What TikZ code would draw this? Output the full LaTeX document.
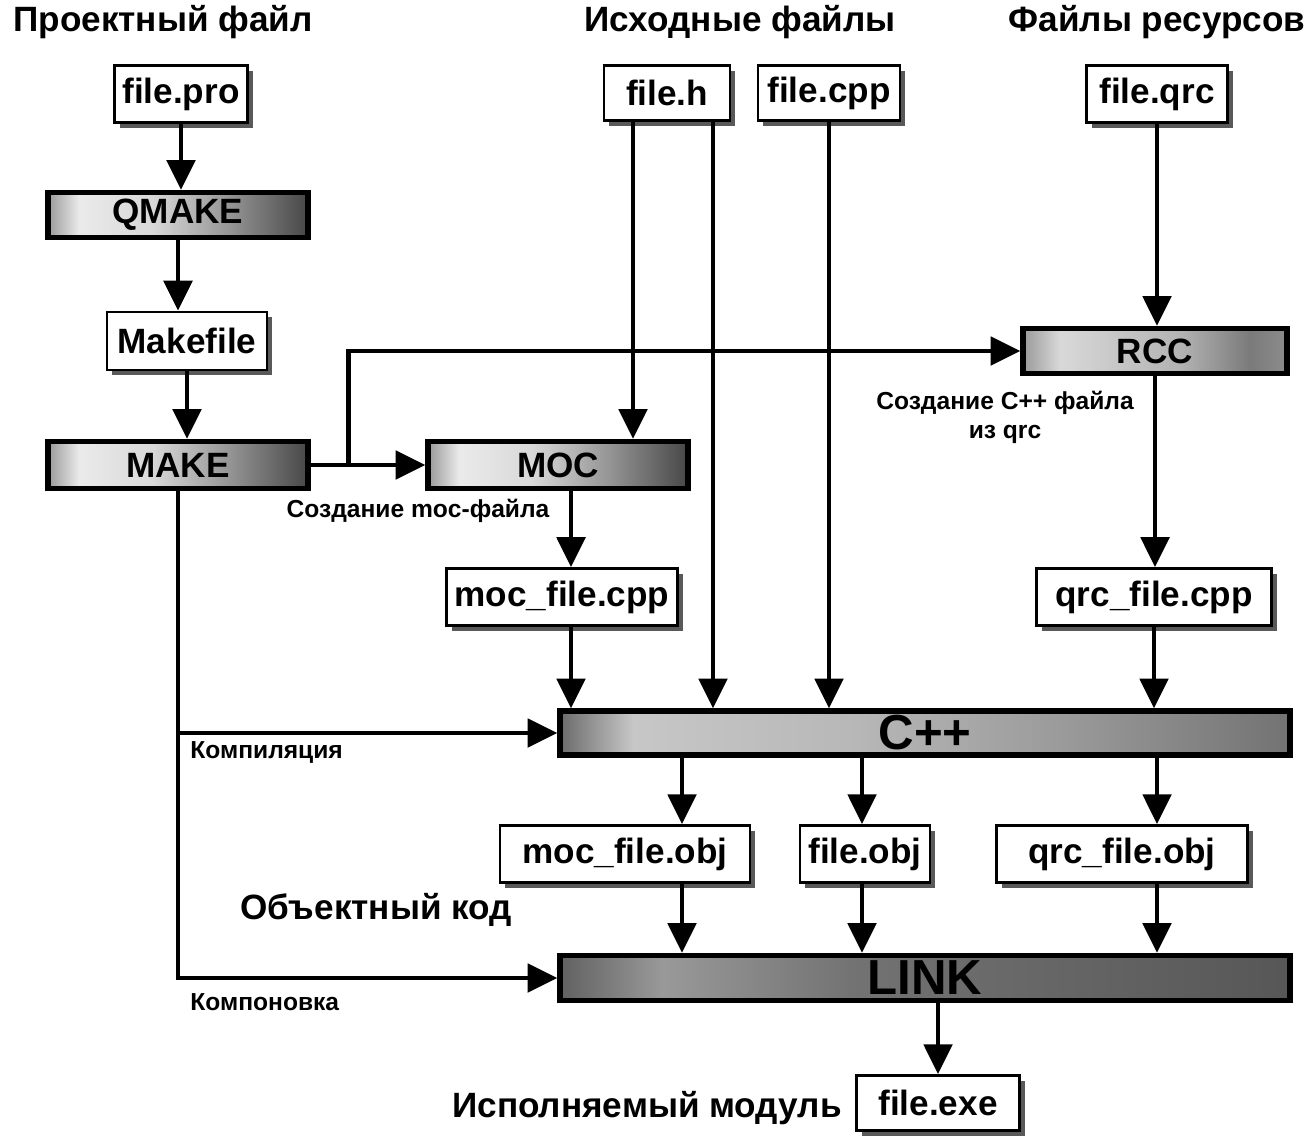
\documentclass[tikz,border=0pt]{standalone}
\usepackage{fontspec}
\setmainfont{Liberation Sans}
\usetikzlibrary{arrows.meta,calc,shadows}
% horizontal grey shadings of the tool bars (path covers 25bp..75bp)
\pgfdeclarehorizontalshading{procA}{100bp}{color(0bp)=(black!40); color(25bp)=(black!40);
  color(31bp)=(black!8); color(45bp)=(black!15); color(60bp)=(black!42); color(75bp)=(black!72); color(100bp)=(black!72)}
\pgfdeclarehorizontalshading{procB}{100bp}{color(0bp)=(black!40); color(25bp)=(black!40);
  color(32bp)=(black!15); color(55bp)=(black!30); color(68bp)=(black!52); color(75bp)=(black!45); color(100bp)=(black!45)}
\pgfdeclarehorizontalshading{procC}{100bp}{color(0bp)=(black!58); color(25bp)=(black!58);
  color(30bp)=(black!22); color(45bp)=(black!28); color(60bp)=(black!40); color(75bp)=(black!55); color(100bp)=(black!55)}
\pgfdeclarehorizontalshading{procD}{100bp}{color(0bp)=(black!62); color(25bp)=(black!62);
  color(32bp)=(black!40); color(45bp)=(black!55); color(75bp)=(black!66); color(100bp)=(black!66)}
\begin{document}
\begin{tikzpicture}[x=0.02cm, y=-0.02cm,
  filebox/.style={draw, line width=1.6pt, fill=white, inner sep=0pt,
    font=\bfseries\fontsize{20}{24}\selectfont,
    drop shadow={shadow xshift=3pt, shadow yshift=-3pt, fill=black!65, opacity=1}},
  tool/.style={draw, line width=3pt, inner sep=0pt, minimum width=5.2cm, minimum height=0.9cm,
    font=\bfseries\fontsize{20}{24}\selectfont},
  flow/.style={line width=2.8pt, -{Triangle[length=17pt,width=16pt]}},
  note/.style={inner sep=0pt, font=\bfseries\fontsize{14}{16.5}\selectfont},
  head/.style={inner sep=0pt, font=\bfseries\fontsize{20}{24}\selectfont}]
\useasboundingbox (0,0) rectangle (1314,1137);

% headings
\node[head] (thpro) at (163,22) {Проектный файл};
\node[head] (thsrc) at (740,22) {Исходные файлы};
\node[head] (thres) at (1157,22) {Файлы ресурсов};

% files and tools
\node[filebox, minimum width=2.66cm, minimum height=1.14cm] (pro) at (181,94) {file.pro};
\node[tool, shading=procA] (qmake) at (178,215) {QMAKE};
\node[filebox, minimum width=3.2cm, minimum height=1.16cm] (mkfile) at (187,341) {Makefile};
\node[tool, shading=procA, minimum height=0.94cm] (make) at (178,465) {MAKE};
\node[tool, shading=procA, minimum height=0.94cm] (moc) at (558,465) {MOC};
\node[filebox, minimum width=2.52cm, minimum height=1.1cm] (fileh) at (667,93) {file.h};
\node[filebox, minimum width=2.84cm, minimum height=1.1cm] (filecpp) at (829,93) {file.cpp};
\node[filebox, minimum width=2.82cm, minimum height=1.14cm] (fileqrc) at (1157,94) {file.qrc};
\node[tool, shading=procB, minimum width=5.28cm] (rcc) at (1155,351) {RCC};
\node[filebox, minimum width=4.62cm, minimum height=1.14cm] (moccpp) at (562,597) {moc\_file.cpp};
\node[filebox, minimum width=4.7cm, minimum height=1.14cm] (qrccpp) at (1154,597) {qrc\_file.cpp};
\node[tool, shading=procC, minimum width=14.6cm, minimum height=0.88cm,
  font=\bfseries\fontsize{28}{30}\selectfont] (cpp) at (925,733) {C++};
\node[filebox, minimum width=5cm, minimum height=1.14cm] (mocobj) at (625,854) {moc\_file.obj};
\node[filebox, minimum width=2.6cm, minimum height=1.14cm] (fileobj) at (865,854) {file.obj};
\node[filebox, minimum width=5.02cm, minimum height=1.14cm] (qrcobj) at (1122,854) {qrc\_file.obj};
\node[tool, shading=procD, minimum width=14.6cm,
  font=\bfseries\fontsize{28}{30}\selectfont] (link) at (925,978) {LINK};
\node[filebox, minimum width=3.26cm, minimum height=1.1cm] (exe) at (938,1103) {file.exe};

% captions
\node[note, align=center] (trcc) at (1005,417) {Создание C++ файла\\из qrc};
\node[note] (tmoc) at (418,511) {Создание moc-файла};
\node[note, anchor=west] (tcomp) at (190,752) {Компиляция};
\node[head, anchor=west] (tobj) at (240,910) {Объектный код};
\node[note, anchor=west] (tlink) at (190,1002) {Компоновка};
\node[head, anchor=east] (texe) at (842,1108) {Исполняемый модуль};

% project branch
\draw[flow] (pro.south) -- (pro.south |- qmake.north);
\draw[flow] (qmake.south) -- (qmake.south |- mkfile.north);
\draw[flow] (mkfile.south) -- (mkfile.south |- make.north);
\draw[flow] (make) -- (moc);
\coordinate (split) at ($(make.east)!0.33!(moc.west)$);
\draw[flow] (split) |- (rcc.west);
\draw[flow] (make.south) |- (link.west);
\draw[flow] (make.south |- cpp.west) -- (cpp.west);

% sources
\coordinate (hl) at ($(fileh.south)+(-34,0)$);
\coordinate (hr) at ($(fileh.south)+(46,0)$);
\draw[flow] (hl) -- (hl |- moc.north);
\draw[flow] (hr) -- (hr |- cpp.north);
\draw[flow] (filecpp.south) -- (filecpp.south |- cpp.north);
\coordinate (mc) at ($(moccpp.north)+(9,0)$);
\draw[flow] (moc.south -| mc) -- (mc);
\draw[flow] (moccpp.south -| mc) -- (mc |- cpp.north);

% resources
\draw[flow] (fileqrc.south) -- (fileqrc.south |- rcc.north);
\draw[flow] (rcc.south) -- (rcc.south |- qrccpp.north);
\draw[flow] (qrccpp.south) -- (qrccpp.south |- cpp.north);

% object code and linking
\coordinate (o1) at (682,0);
\coordinate (o2) at (862,0);
\coordinate (o3) at (1157,0);
\draw[flow] (cpp.south -| o1) -- (mocobj.north -| o1);
\draw[flow] (mocobj.south -| o1) -- (link.north -| o1);
\draw[flow] (cpp.south -| o2) -- (fileobj.north -| o2);
\draw[flow] (fileobj.south -| o2) -- (link.north -| o2);
\draw[flow] (cpp.south -| o3) -- (qrcobj.north -| o3);
\draw[flow] (qrcobj.south -| o3) -- (link.north -| o3);
\draw[flow] (link.south -| exe.north) -- (exe.north);
\end{tikzpicture}
\end{document}
